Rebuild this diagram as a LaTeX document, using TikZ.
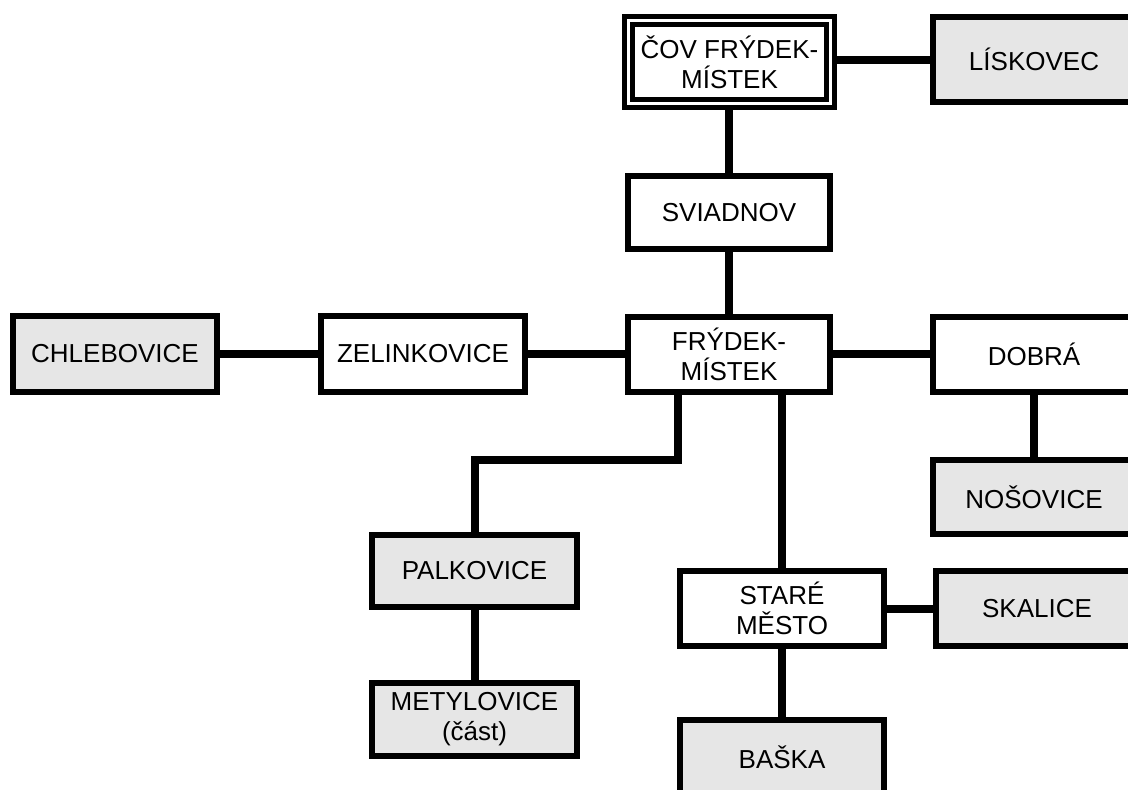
\documentclass[tikz,border=0pt]{standalone}
\usepackage{fontspec}
\setmainfont{Liberation Sans}
\definecolor{boxgray}{RGB}{230,230,230}
\begin{document}
\begin{tikzpicture}[x=0.5pt,y=-0.5pt,
  lbl/.style={font=\fontsize{13}{15}\selectfont, align=center, inner sep=0pt, text=black},
  wbox/.style={lbl, draw=black, line width=3pt, fill=white, rectangle},
  gbox/.style={lbl, draw=black, line width=3pt, fill=boxgray, rectangle},
  dbox/.style={lbl, draw=black, line width=2.25pt, double=white, double distance=1.75pt, fill=white, rectangle},
  link/.style={draw=black, line width=4pt}]
\useasboundingbox (0,0) rectangle (1128,789);
\clip (0,0) rectangle (1128,789);
\node[dbox, minimum width=101pt, minimum height=41.5pt] (cov) at (729.5,62) {ČOV FRÝDEK-\\MÍSTEK};
\node[gbox, minimum width=101pt, minimum height=42.5pt] (lis) at (1034,59.5) {LÍSKOVEC};
\node[wbox, minimum width=101pt, minimum height=36.5pt] (sv) at (729,212.5) {SVIADNOV};
\node[wbox, minimum width=101pt, minimum height=37.5pt] (fm) at (729,354) {FRÝDEK-\\MÍSTEK};
\node[gbox, minimum width=102pt, minimum height=38pt] (chl) at (115,354) {CHLEBOVICE};
\node[wbox, minimum width=102pt, minimum height=38pt] (zel) at (423,354) {ZELINKOVICE};
\node[wbox, minimum width=101pt, minimum height=37.5pt] (dob) at (1034,354) {DOBRÁ};
\node[gbox, minimum width=101pt, minimum height=37pt] (nos) at (1034,497) {NOŠOVICE};
\node[gbox, minimum width=102.5pt, minimum height=36pt] (pal) at (474.5,571) {PALKOVICE};
\node[gbox, minimum width=102.5pt, minimum height=36.5pt] (met) at (474.5,719.5) {METYLOVICE\\(část)};
\node[wbox, minimum width=102pt, minimum height=37.5pt] (sm) at (782,608.5) {STARÉ\\MĚSTO};
\node[gbox, minimum width=101pt, minimum height=37.5pt] (ska) at (1037,608.5) {SKALICE};
\node[gbox, minimum width=102pt, minimum height=37.5pt] (bas) at (782,757.5) {BAŠKA};
\coordinate (bend) at (678,460);
\draw[link] (lis.west -| cov.east) -- (lis.west);
\draw[link] (sv.north |- cov.south) -- (sv.north);
\draw[link] (sv.south) -- (fm.north);
\draw[link] (chl.east) -- (zel.west);
\draw[link] (zel.east) -- (fm.west);
\draw[link] (fm.east) -- (dob.west);
\draw[link] (dob.south) -- (nos.north);
\draw[link] (bend |- fm.south) -- (bend) -| (pal.north);
\draw[link] (pal.south) -- (met.north);
\draw[link] (sm.north |- fm.south) -- (sm.north);
\draw[link] (sm.east) -- (ska.west);
\draw[link] (sm.south) -- (bas.north);
\end{tikzpicture}
\end{document}
